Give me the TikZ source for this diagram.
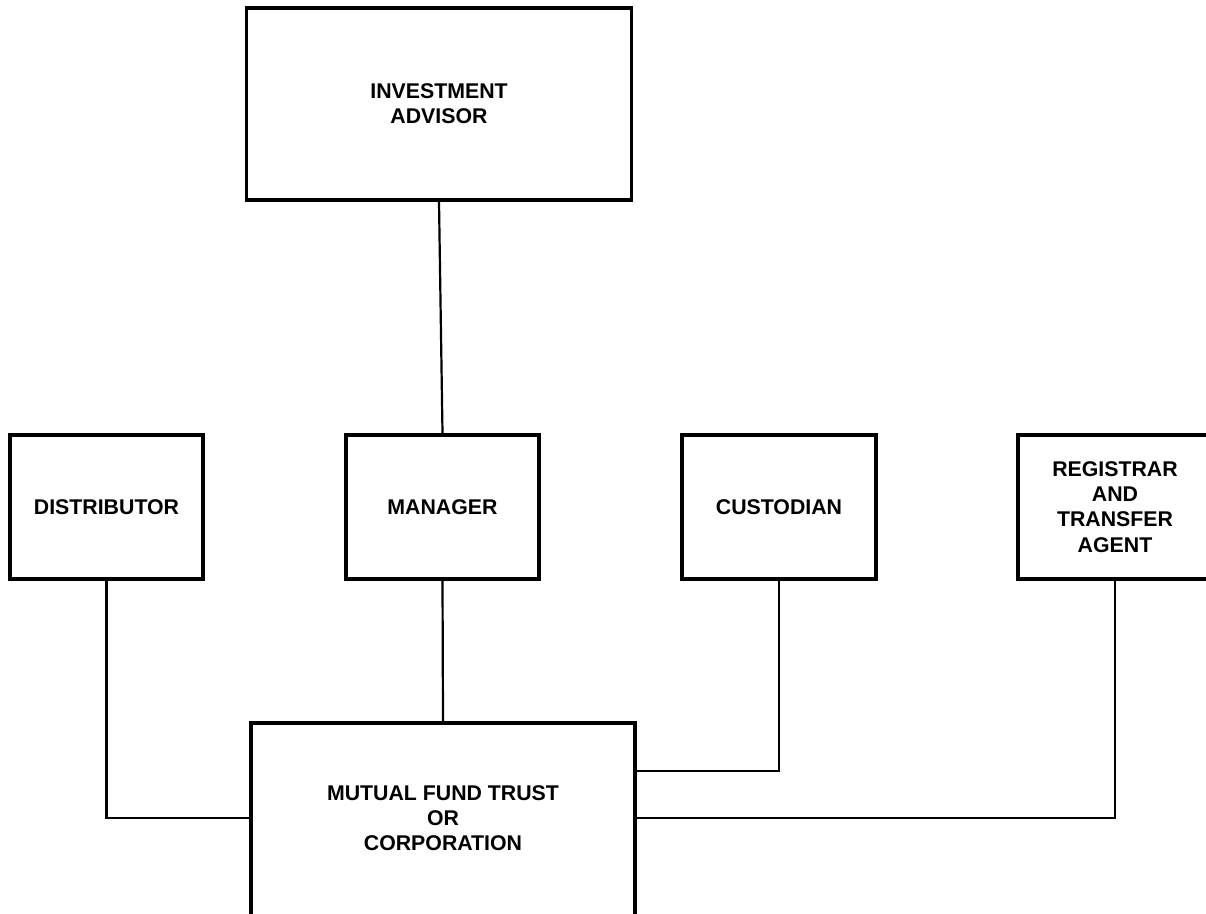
\documentclass[tikz,border=0pt]{standalone}
\usepackage{fontspec}
\setmainfont{Liberation Sans}
\begin{document}
\begin{tikzpicture}[x=1pt,y=-1pt,
  box/.style={draw=black, line width=3.6pt, inner sep=0pt, align=center,
    font=\fontsize{21.3}{25.3}\selectfont\bfseries},
  lbl/.style={inner sep=0pt, align=center, font=\fontsize{21.3}{25.3}\selectfont\bfseries},
  conn/.style={draw=black, line width=2.2pt}]
\useasboundingbox (0,0) rectangle (1206,913);
\fill[white] (0,0) rectangle (1206,913);
\node[box, minimum width=385pt, minimum height=192pt] (adv) at (439,104) {INVESTMENT\\ADVISOR};
\node[box, minimum width=193pt, minimum height=144pt] (dist) at (106.5,507) {DISTRIBUTOR};
\node[box, minimum width=193pt, minimum height=144pt] (man) at (442.5,507) {MANAGER};
\node[box, minimum width=194pt, minimum height=144pt] (cust) at (779,507) {CUSTODIAN};
\node[box, minimum width=194pt, minimum height=144pt] (reg) at (1115,507) {};
\node[lbl] (regt) at (reg.center) {REGISTRAR\\AND\\TRANSFER\\AGENT};
\node[box, minimum width=384pt, minimum height=200pt] (mf) at (443,823) {};
\node[lbl] (mft) at (443,818) {MUTUAL FUND TRUST\\OR\\CORPORATION};
\path (mf.east) ++(0,-52) coordinate (cjoin);
\draw[conn] (adv.south) -- (man.north);
\draw[conn] (man.south) -- (mf.north);
\draw[conn] (dist.south) |- (mf.west |- mft);
\draw[conn] (reg.south) |- (mf.east |- mft);
\draw[conn] (cust.south) |- (cjoin);
\end{tikzpicture}
\end{document}
